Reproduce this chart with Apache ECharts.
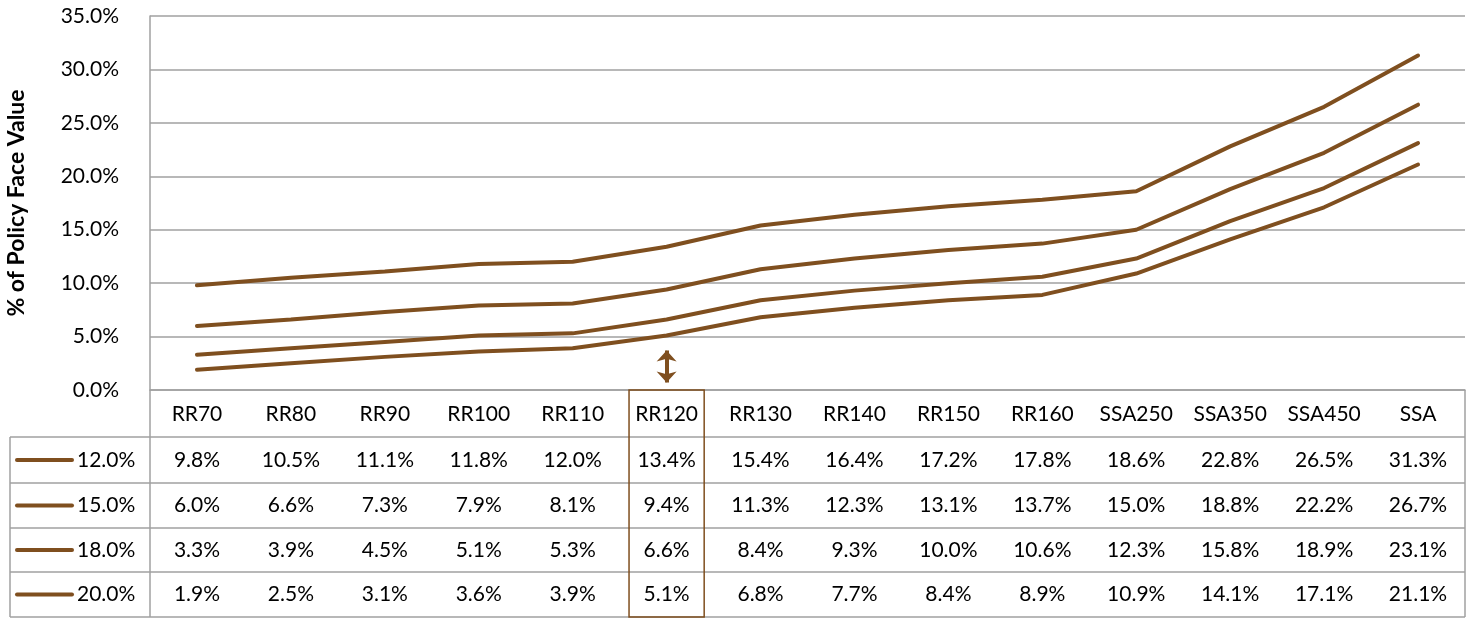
<!DOCTYPE html>
<html>
<head>
<meta charset="utf-8">
<script src="https://cdn.jsdelivr.net/npm/echarts@6/dist/echarts.min.js"></script>
<style>
  html, body { margin: 0; padding: 0; background: #fff; }
  #chart { width: 1469px; height: 619px; }
</style>
</head>
<body>
<div id="chart"></div>
<script>
// categories along the x axis
var categories = ['RR70', 'RR80', 'RR90', 'RR100', 'RR110', 'RR120', 'RR130', 'RR140', 'RR150', 'RR160', 'SSA250', 'SSA350', 'SSA450', 'SSA'];
// series names (discount rates)
var seriesNames = ['12.0%', '15.0%', '18.0%', '20.0%'];
// values, % of policy face value
var rate12 = [9.8, 10.5, 11.1, 11.8, 12.0, 13.4, 15.4, 16.4, 17.2, 17.8, 18.6, 22.8, 26.5, 31.3];
var rate15 = [6.0, 6.6, 7.3, 7.9, 8.1, 9.4, 11.3, 12.3, 13.1, 13.7, 15.0, 18.8, 22.2, 26.7];
var rate18 = [3.3, 3.9, 4.5, 5.1, 5.3, 6.6, 8.4, 9.3, 10.0, 10.6, 12.3, 15.8, 18.9, 23.1];
var rate20 = [1.9, 2.5, 3.1, 3.6, 3.9, 5.1, 6.8, 7.7, 8.4, 8.9, 10.9, 14.1, 17.1, 21.1];
var allRates = [rate12, rate15, rate18, rate20];
// highlighted column and the arrow under it (y range in %)
var highlightCat = 'RR120';
var arrowRange = [0.7, 3.7];

var brown = '#7f4f1f';
var grey = '#a0a0a0';
var font = 'Lato, "Open Sans", sans-serif';
var fs = 21;

var chart = echarts.init(document.getElementById('chart'));

var series = [];
for (var i = 0; i < allRates.length; i++) {
  series.push({
    name: seriesNames[i],
    type: 'line',
    data: allRates[i],
    symbol: 'none',
    silent: true,
    lineStyle: { color: brown, width: 4, cap: 'round' }
  });
}
// double headed arrow under RR120
series[0].markLine = {
  silent: true,
  symbol: ['arrow', 'arrow'],
  symbolSize: [15, 11],
  label: { show: false },
  lineStyle: { color: brown, width: 4, type: 'solid' },
  data: [[{ coord: [highlightCat, arrowRange[0]] }, { coord: [highlightCat, arrowRange[1]] }]]
};

chart.setOption({
  animation: false,
  grid: { left: 150, right: 4, top: 16, bottom: 229, outerBoundsMode: 'none', containLabel: false },
  xAxis: {
    type: 'category',
    data: categories,
    boundaryGap: true,
    axisLine: { lineStyle: { color: grey, width: 1.5 } },
    axisTick: { show: false },
    axisLabel: { interval: 0, hideOverlap: false, color: '#000', fontFamily: font, fontSize: fs, margin: 24, verticalAlign: 'middle' }
  },
  yAxis: {
    type: 'value',
    min: 0,
    max: 35,
    interval: 5,
    name: '% of Policy Face Value',
    nameLocation: 'middle',
    nameRotate: 90,
    nameGap: 133,
    nameTextStyle: { color: '#000', fontFamily: font, fontSize: 23, fontWeight: 'bold', verticalAlign: 'middle' },
    axisLine: { show: true, lineStyle: { color: grey, width: 1.5 } },
    axisTick: { show: false },
    splitLine: { lineStyle: { color: grey, width: 1.5 } },
    axisLabel: {
      color: '#000', fontFamily: font, fontSize: fs, margin: 31,
      formatter: function (v) { return v.toFixed(1) + '%'; }
    }
  },
  series: series
});

// data table under the plot
var tableLeft = 10, plotLeft = 150, tableRight = 1465;
var headerTop = 390;
var rowLines = [437, 483, 528, 572, 617];
var els = [];
function hline(y, x1, x2, color, w) {
  els.push({ type: 'line', shape: { x1: x1, y1: y, x2: x2, y2: y }, style: { stroke: color, lineWidth: w } });
}
function vline(x, y1, y2, color, w) {
  els.push({ type: 'line', shape: { x1: x, y1: y1, x2: x, y2: y2 }, style: { stroke: color, lineWidth: w } });
}
for (var r = 0; r < rowLines.length; r++) hline(rowLines[r], tableLeft, tableRight, grey, 1.5);
vline(tableLeft, rowLines[0], rowLines[rowLines.length - 1], grey, 1.5);
vline(plotLeft, headerTop, rowLines[rowLines.length - 1], grey, 1.5);
vline(tableRight, headerTop, rowLines[rowLines.length - 1], grey, 1.5);

for (var s = 0; s < allRates.length; s++) {
  var cy = (rowLines[s] + rowLines[s + 1]) / 2;
  els.push({ type: 'line', shape: { x1: 17, y1: cy, x2: 72, y2: cy }, style: { stroke: brown, lineWidth: 4, lineCap: 'round' } });
  els.push({ type: 'text', x: 77, y: cy, style: { text: seriesNames[s], fill: '#000', font: fs + 'px ' + font, textAlign: 'left', textVerticalAlign: 'middle' } });
  for (var c = 0; c < categories.length; c++) {
    var cx = chart.convertToPixel({ xAxisIndex: 0 }, categories[c]);
    els.push({ type: 'text', x: cx, y: cy, style: { text: allRates[s][c].toFixed(1) + '%', fill: '#000', font: fs + 'px ' + font, textAlign: 'center', textVerticalAlign: 'middle' } });
  }
}

// box around the highlighted column
var hx = chart.convertToPixel({ xAxisIndex: 0 }, highlightCat);
var colW = (tableRight - plotLeft) / categories.length;
els.push({
  type: 'rect',
  shape: { x: hx - colW * 0.4, y: headerTop, width: colW * 0.8, height: rowLines[rowLines.length - 1] - headerTop },
  style: { fill: 'none', stroke: brown, lineWidth: 1.5 },
  z: 10
});

chart.setOption({ graphic: { elements: els } });
</script>
</body>
</html>
